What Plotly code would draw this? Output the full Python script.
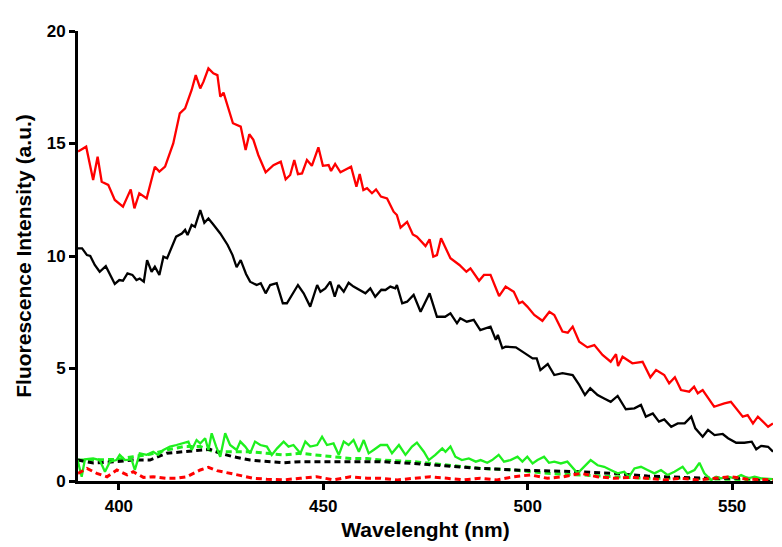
import plotly.graph_objects as go

# Red solid
red_x = [390, 392, 393.7, 394.8, 395.8, 397.4, 399, 401, 402.9, 403.8, 405, 406.8, 408.8, 409.9, 411.3, 413.3,
         414.9, 416.2, 417.8, 418.8, 419.9, 420.7, 421.9, 423.1, 424.1, 424.8, 425.6, 427.9, 429.8, 431, 431.9,
         432.9, 434.1, 435.9, 437.8, 439.6, 440.8, 441.9, 442.9, 443.8, 444.8, 446, 447.2, 448.8, 449.9, 451.3,
         451.9, 452.9, 454.2, 456.8, 458.1, 458.9, 459.8, 460.7, 461.9, 462.9, 464.1, 465.6, 467.2, 468, 468.9,
         470.5, 471.9, 472.9, 475, 476, 476.9, 477.8, 478.8, 481.1, 483.3, 485, 486, 488.1, 489.3, 490.9, 493,
         494.6, 496.6, 497.9, 498.7, 499.9, 501.6, 503.6, 505.3, 506.5, 508.5, 509.8, 511, 512.6, 514.6, 516.3,
         518.3, 520.3, 521.6, 522.1, 523.2, 525.6, 528.1, 530, 531.4, 533.4, 534.6, 536, 537.5, 539.5, 540.7,
         541.6, 542.8, 545.6, 548.1, 549.7, 552.6, 553.8, 555.1, 556.3, 558.8, 560]
red_y = [14.64, 14.86, 13.38, 14.41, 13.3, 13.16, 12.49, 12.19, 12.96, 12.12, 12.79, 12.56, 13.97, 13.75, 13.97, 15.0,
         16.34, 16.56, 17.38, 18.04, 17.45, 17.75, 18.34, 18.12, 18.04, 17.08, 17.26, 15.9, 15.75, 14.71, 15.41,
         15.16, 14.49, 13.72, 14.04, 14.19, 13.41, 13.6, 14.27, 13.64, 13.67, 14.27, 14.01, 14.83, 14.01, 14.04,
         13.78, 14.09, 13.72, 13.97, 13.08, 13.64, 12.93, 13.01, 12.79, 12.96, 12.64, 12.56, 11.97, 11.82, 11.26,
         11.52, 10.96, 10.86, 10.44, 10.74, 9.97, 10.04, 10.79, 9.9, 9.6, 9.3, 9.45, 8.9, 9.16, 9.16, 8.22,
         8.64, 8.41, 7.9, 7.97, 7.75, 7.38, 7.12, 7.52, 7.38, 6.64, 6.59, 6.86, 6.19, 5.94, 6.04,
         5.6, 5.3, 5.64, 5.11, 5.52, 5.23, 5.3, 4.61, 4.93, 4.71, 4.34, 4.61, 4.04, 3.97, 4.19,
         3.9, 4.04, 3.3, 3.45, 3.52, 2.86, 2.93, 2.56, 2.86, 2.41, 2.56]

# Black solid
black_x = [390, 391, 392.2, 393, 394.1, 395.3, 396.8, 397.8, 399, 400.1, 401, 402.1, 403.3, 404.3, 405.1, 406.1,
           406.9, 408, 408.8, 409.9, 410.9, 411.8, 414, 415.4, 416.2, 416.8, 417.8, 418.6, 419.9, 420.9, 421.9,
           423, 424.8, 426.6, 427.8, 428.8, 429.8, 431.1, 432.1, 433.7, 434.7, 435.9, 437, 438.6, 440.1, 441.1,
           443.8, 445.2, 446.8, 448.5, 449.3, 450.5, 451.7, 452.8, 453.7, 455, 456.2, 457.4, 458.7, 460.3, 461.5,
           462.7, 464.2, 465.2, 466.4, 467.6, 468, 469.3, 470.5, 472.1, 473.8, 475, 476, 477.8, 479.8, 481.1,
           482.7, 483.5, 485.1, 486.8, 488.4, 490.9, 492.2, 492.7, 493.8, 494.6, 497.1, 498.7, 501.2, 502.2,
           503.1, 504.9, 506.5, 508.5, 511, 512.6, 514, 515.3, 517.1, 518.7, 520.3, 522, 524, 526.1, 527.7,
           528.9, 530.6, 532.1, 533.4, 535.1, 536.7, 538.4, 540, 541, 542.8, 544.1, 545.7, 547.7, 549, 551,
           553, 554.8, 555.9, 557.1, 558.8, 560]
black_y = [10.34, 10.34, 10.04, 10.0, 9.6, 9.3, 9.55, 9.16, 8.76, 8.93, 8.9, 9.23, 9.16, 8.93, 9.0, 8.86,
           9.82, 9.3, 9.52, 9.16, 9.97, 9.9, 10.86, 11.0, 11.16, 10.93, 11.38, 11.3, 12.04, 11.48, 11.67,
           11.42, 11.0, 10.49, 10.04, 9.5, 9.82, 9.2, 8.86, 8.71, 8.79, 8.34, 8.71, 8.79, 7.9, 7.9,
           8.71, 8.34, 7.75, 8.71, 8.41, 8.56, 8.86, 8.19, 8.71, 8.41, 8.81, 8.64, 8.49, 8.34, 8.56,
           8.19, 8.5, 8.49, 8.64, 8.56, 8.71, 7.9, 7.97, 8.27, 7.52, 7.97, 8.34, 7.3, 7.3, 7.45,
           7.01, 7.23, 7.08, 7.16, 6.71, 6.86, 6.27, 6.49, 5.9, 5.97, 5.94, 5.75, 5.45, 5.45,
           4.93, 5.2, 4.71, 4.79, 4.71, 4.27, 3.82, 4.12, 3.82, 3.67, 3.52, 3.78, 3.19, 3.23, 3.38,
           2.86, 3.0, 2.64, 2.74, 2.41, 2.56, 2.56, 2.86, 2.34, 1.97, 2.27, 2.04, 2.09, 1.9, 1.7,
           1.7, 1.75, 1.41, 1.56, 1.52, 1.3]

# Green solid
green_x = [389.9, 390.9, 391.7, 393.7, 395.3, 396.6, 397.8, 399.4, 400.2, 401.5, 403.1, 403.9, 405.1, 406.8,
           408.4, 409.6, 410.9, 412.5, 414.1, 415.8, 417, 417.8, 419, 419.9, 421.1, 421.9, 422.7, 423.8, 424.8,
           426, 427.2, 428.8, 429.7, 430.9, 432.1, 433.3, 434.6, 436.2, 437.4, 438.7, 440.3, 441.5, 442.7,
           444.4, 445.6, 446.8, 448.5, 449.7, 450.9, 452.5, 453.8, 455, 456.2, 457.4, 458.7, 459.9, 461.1,
           462.3, 464, 465.6, 466.8, 468.5, 470.1, 471.7, 472.9, 474.6, 475.8, 477.4, 479.1, 479.9, 481.1,
           482.3, 483.9, 485.6, 487.3, 488.5, 490.1, 491.3, 492.9, 494.2, 495.8, 497.5, 498.7, 499.9, 501.2,
           502.4, 504, 505.2, 506.5, 508.1, 509.7, 512.2, 513.8, 515.4, 517.1, 518.7, 520.3, 522, 523.6,
           524.8, 526.1, 527.7, 529.3, 531, 532.6, 534.2, 535.9, 537.9, 539.1, 540.8, 542, 543.2, 544.9,
           546.1, 547.3, 549, 550.6, 552.2, 553.9, 555.5, 557.1, 560]
green_y = [0.93, 0.19, 0.96, 1.0, 0.93, 0.41, 0.86, 0.93, 1.16, 0.93, 0.96, 0.49, 1.23, 1.16,
           1.3, 1.16, 1.38, 1.53, 1.6, 1.67, 1.75, 1.38, 1.82, 1.67, 1.9, 1.38, 2.12, 1.53, 1.08,
           2.12, 1.6, 1.38, 1.75, 1.53, 1.23, 1.75, 1.6, 1.53, 1.16, 1.45, 1.75, 1.53, 1.6,
           1.23, 1.75, 1.53, 1.6, 1.97, 1.6, 1.67, 1.16, 1.75, 1.6, 1.82, 1.3, 1.82, 1.23,
           1.38, 1.6, 1.6, 1.23, 1.6, 1.16, 1.53, 1.71, 1.3, 0.93, 1.16, 1.45, 1.3, 1.53,
           1.08, 0.93, 1.0, 0.86, 0.93, 0.81, 0.93, 1.16, 0.86, 0.93, 1.08, 0.86, 1.08, 0.78,
           0.93, 1.08, 0.81, 0.86, 0.78, 0.86, 0.34, 0.63, 0.93, 0.7, 0.63, 0.49, 0.34, 0.41,
           0.19, 0.56, 0.63, 0.49, 0.34, 0.49, 0.27, 0.41, 0.63, 0.34, 0.49, 0.81, 0.34, 0.04,
           0.19, 0.12, 0.19, 0.12, 0.27, 0.12, 0.19, 0.12, 0.08]

# Black dashed
bd_x = [390, 393.8, 399.5, 403.5, 407.6, 411.7, 415.8, 419.9, 422.3, 424.8, 428, 432.1, 436.2, 440.3, 444.4,
        448.4, 452.5, 460.7, 464, 472.1, 480.3, 488.4, 496.6, 504.8, 513, 521.1, 529.3, 537.5, 545.7, 553.8, 560]
bd_y = [0.93, 0.8, 0.86, 0.93, 0.93, 1.23, 1.3, 1.38, 1.41, 1.23, 1.08, 0.93, 0.86, 0.81, 0.86,
        0.86, 0.86, 0.86, 0.86, 0.78, 0.67, 0.56, 0.49, 0.46, 0.41, 0.34, 0.22, 0.16, 0.12, 0.12, 0.04]

# Green dashed
gd_x = [390, 393.8, 399.5, 403.5, 407.6, 411.7, 415.8, 419.9, 423.2, 428, 432.1, 436.2, 440.3, 444.4, 448.4,
        452.5, 456.6, 460.7, 464, 472.1, 480.3, 488.4, 496.6, 504.8, 513, 521.1, 529.3, 537.5, 545.7, 553.8, 560]
gd_y = [0.93, 0.93, 0.96, 1.08, 1.19, 1.38, 1.53, 1.53, 1.3, 1.3, 1.3, 1.23, 1.16, 1.23, 1.16,
        1.08, 1.0, 1.0, 0.93, 0.86, 0.7, 0.56, 0.49, 0.34, 0.27, 0.19, 0.12, 0.12, 0.08, 0.04, 0.04]

# Red dashed
rd_x = [390, 392.2, 394.6, 397.1, 399.5, 402, 403.5, 406, 408.4, 411.7, 414.1, 416.6, 419.9, 421.9, 424,
        427.2, 429.7, 433, 436.2, 440.3, 444.4, 448.4, 452.5, 456.6, 460.7, 464, 468.1, 472.1, 476.2, 480.3,
        484.4, 488.4, 492.5, 496.6, 500.7, 504.8, 508.8, 513, 517, 521.1, 525.2, 529.3, 533.4, 537.5, 541.6,
        545.7, 549.7, 553.8, 560]
rd_y = [0.34, 0.56, 0.34, 0.19, 0.49, 0.27, 0.41, 0.16, 0.19, 0.12, 0.12, 0.19, 0.49, 0.61, 0.46,
        0.34, 0.27, 0.12, 0.08, 0.05, 0.12, 0.19, 0.05, 0.19, 0.12, 0.12, 0.05, 0.12, 0.19, 0.12,
        0.05, 0.12, 0.05, 0.19, 0.27, 0.12, 0.19, 0.34, 0.19, 0.12, 0.16, 0.12, 0.05, 0.12, 0.05,
        0.12, 0.19, 0.08, 0.05]

x_ticks = [400, 450, 500, 550]
y_ticks = [0, 5, 10, 15, 20]

RED = "#FF0000"
BLACK = "#000000"
GREEN = "#1EF01E"
DASH = "6px,4px"

fig = go.Figure()
fig.add_trace(go.Scatter(x=gd_x, y=gd_y, mode="lines", line=dict(color=GREEN, width=3, dash=DASH)))
fig.add_trace(go.Scatter(x=bd_x, y=bd_y, mode="lines", line=dict(color=BLACK, width=3, dash=DASH)))
fig.add_trace(go.Scatter(x=green_x, y=green_y, mode="lines", line=dict(color=GREEN, width=2.3)))
fig.add_trace(go.Scatter(x=rd_x, y=rd_y, mode="lines", line=dict(color=RED, width=3, dash=DASH)))
fig.add_trace(go.Scatter(x=black_x, y=black_y, mode="lines", line=dict(color=BLACK, width=2.3)))
fig.add_trace(go.Scatter(x=red_x, y=red_y, mode="lines", line=dict(color=RED, width=2.3)))

fnt = "Arial, Liberation Sans, sans-serif"
fig.update_layout(
    width=782, height=547,
    margin=dict(l=78, r=9, t=31, b=66),
    paper_bgcolor="white", plot_bgcolor="white",
    showlegend=False,
    font=dict(family=fnt, color="black"),
)
fig.update_xaxes(
    range=[390, 560], tickvals=x_ticks, ticks="outside", ticklen=6, tickwidth=2.5, tickcolor="black",
    showline=True, linecolor="black", linewidth=3, showgrid=False, zeroline=False,
    tickfont=dict(family=fnt, size=17, weight="bold"), ticklabelstandoff=2,
    title=dict(text="Wavelenght (nm)", font=dict(family=fnt, size=21, weight="bold"), standoff=7),
)
fig.update_yaxes(
    range=[0, 20], tickvals=y_ticks, ticks="outside", ticklen=6, tickwidth=2.5, tickcolor="black",
    showline=True, linecolor="black", linewidth=3, showgrid=False, zeroline=False,
    tickfont=dict(family=fnt, size=17, weight="bold"),
    title=dict(text="Fluorescence Intensity (a.u.)", font=dict(family=fnt, size=21, weight="bold"), standoff=10),
)

fig.write_html("out.html")
